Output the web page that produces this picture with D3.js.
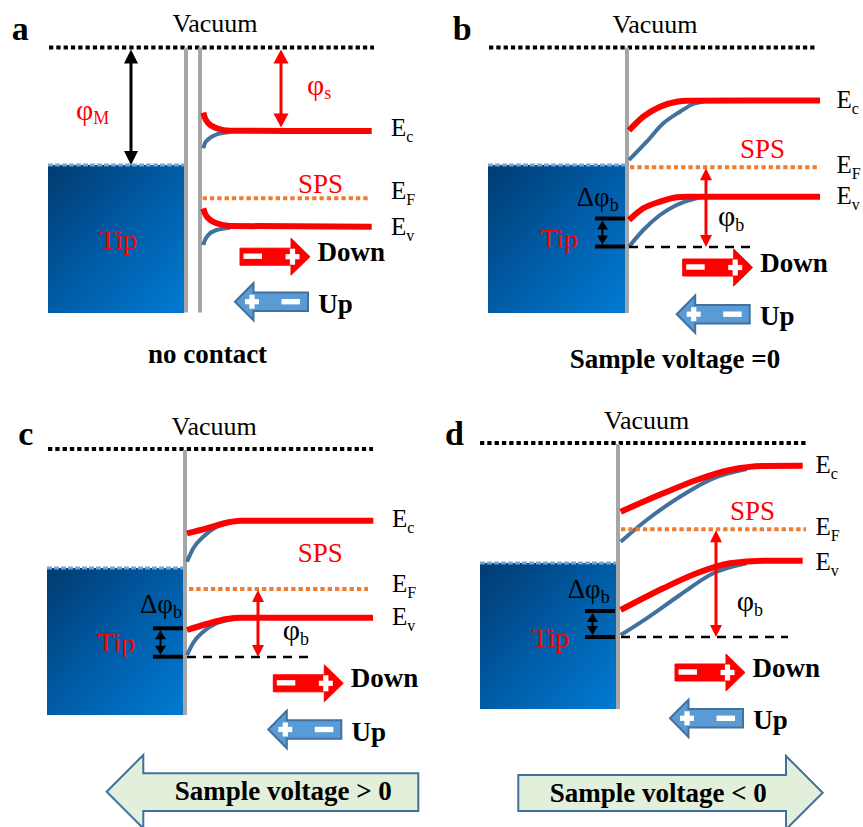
<!DOCTYPE html>
<html><head><meta charset="utf-8">
<script src="https://cdn.jsdelivr.net/npm/d3@7"></script>
<style>body{margin:0;background:#fff}</style>
</head><body>
<svg id="chart" width="863" height="827"></svg>
<script>
// ================= DATA =================
// energies: below vacuum level (arbitrary units); distances: from tip surface (arbitrary units)
const panelIds = ["a", "b", "c", "d"];
const captions = ["no contact", "Sample voltage =0", "Sample voltage > 0", "Sample voltage < 0"];
const bandSubs = ["c", "F", "v"];
const vacuumSpan = [[-13.7, 18.8], [-13.8, 18.8], [-13.7, 18.8], [-13.8, 18.8]];
const tipFermi = [11.75, 11.75, 11.9, 12.0];     // tip Fermi level (top of tip)
const tipBottom = [26.55, 26.55, 26.6, 26.6];
const tipSpan = [[-13.8, -0.2], [-13.9, -0.2], [-13.8, -0.2], [-13.8, -0.2]];
const walls = [[0, 1.4], [0], [0], [0]];
const wallSpan = [[0, 26.5], [0, 26.55], [0.1, 26.6], [0.1, 26.6]];
const sampleFermi = [15.08, 11.98, 14.0, 8.63];
const fermiSpan = [[1.67, 18.23], [0.3, 19.3], [0.4, 18.3], [0.3, 18.8]];
const ecRed = [
  [[1.73, 6.52], [1.9, 7.05], [2.23, 7.58], [3.07, 8.08], [4.4, 8.32], [18.57, 8.35]],
  [[0.2, 8.3], [1.63, 6.92], [3.3, 5.92], [4.97, 5.42], [5.97, 5.32], [19.3, 5.3]],
  [[0.2, 8.43], [2.17, 7.93], [4.17, 7.37], [5.5, 7.17], [18.83, 7.17]],
  [[0.27, 6.87], [4.53, 5.03], [7.87, 3.7], [11.2, 2.7], [14.53, 2.3], [18.47, 2.27]]
];
const ecBlue = [
  [[1.73, 10.08], [1.9, 9.55], [2.23, 9.18], [3.07, 8.68], [4.4, 8.45]],
  [[0.2, 11.25], [1.97, 9.42], [3.63, 7.58], [5.3, 6.42], [6.63, 5.65], [7.63, 5.4]],
  [[0.2, 11.27], [0.83, 9.93], [1.83, 8.77], [3.17, 7.77], [4.83, 7.27], [5.5, 7.2]],
  [[0.27, 9.87], [2.87, 7.7], [6.2, 5.37], [9.53, 3.53], [12.87, 2.6]]
];
const evRed = [
  [[1.73, 16.08], [1.9, 16.6], [2.23, 17.08], [3.07, 17.58], [4.4, 17.85], [18.57, 17.92]],
  [[0.2, 17.25], [1.63, 16.08], [3.3, 15.42], [4.97, 14.98], [5.97, 14.92], [19.3, 14.92]],
  [[0.2, 18.1], [2.17, 17.5], [4.17, 17.0], [5.5, 16.87], [18.8, 16.87]],
  [[0.27, 16.7], [4.53, 14.53], [7.87, 13.03], [11.2, 12.03], [14.53, 11.77], [18.47, 11.77]]
];
const evBlue = [
  [[1.73, 19.75], [1.9, 19.25], [2.23, 18.75], [3.07, 18.25], [4.4, 18.02]],
  [[0.2, 19.92], [1.63, 18.25], [3.3, 16.75], [4.97, 15.75], [7.3, 14.98]],
  [[0.2, 20.6], [0.83, 19.37], [1.83, 18.27], [3.17, 17.43], [4.83, 17.0]],
  [[0.27, 19.2], [2.87, 17.53], [6.2, 15.2], [9.53, 13.03], [12.87, 12.03]]
];
const barrierRef = [null, 19.95, 20.8, 19.4];            // surface band position (dashed reference)
const barrierRefSpan = [null, [0.2, 12.3], [0.2, 12.5], [0.3, 17.0]];
const deltaPhi = [null, [17.1, 19.9], [17.93, 20.77], [16.8, 19.4]];
const workFnM = [0, 11.75];   // phi_M : vacuum -> tip Fermi
const workFnS = [0, 8.0];     // phi_s : vacuum -> Ec

// ================= LAYOUT =================
const unit = 10;
const layout = {
  origin: [[186, 47.5], [627, 47.5], [185, 449], [618, 443]],
  letter: [[-17.43, -0.75], [-17.43, -0.75], [-16.67, -0.4], [-17.3, 0.2]],
  vacuumLabel: [[2.9, -1.52], [2.8, -1.42], [2.92, -1.4], [2.87, -1.37]],
  bandLabelX: [20.5, 20.95, 20.7, 19.75],
  bandLabelV: [[8.85, 15.18, 18.75], [6.08, 12.58, 15.65], [7.77, 14.27, 17.6], [3.03, 9.2, 12.7]],
  sps: [[11.2, 14.52], [11.3, 11.08], [11.27, 11.27], [11.2, 7.7]],
  tip: [[-8.67, 20.18], [-8.7, 20.05], [-8.77, 20.27], [-8.63, 20.37]],
  phiBX: [null, 7.9, 7.3, 9.8],
  phiBLabel: [null, [9.1, 17.85], [9.77, 19.1], [11.87, 16.8]],
  dPhiX: [null, [-3.2, -0.2], [-3.2, -0.2], [-3.3, -0.3]],
  dPhiLabel: [null, [-5.03, 15.85], [-4.5, 16.4], [-5.03, 15.53]],
  down: [[5.4, 20.92], [5.57, 22.0], [8.83, 23.43], [5.7, 22.95]],
  up: [[4.9, 25.42], [4.97, 26.67], [8.33, 28.05], [5.2, 27.53]],
  caption: [[2.15, 31.52], [4.8, 32.08], [9.83, 35.1], [4.03, 35.93]],
  phiMX: -5.5, phiMLabel: [-11, 7.25],
  phiSX: 9.5, phiSLabel: [12.1, 4.75],
  bigArrow: [null, null,
    {tip: [-7.83, 34.27], end: 23.33, back: -4.17, body: [32.43, 36.2], head: 3.67},
    {tip: [20.47, 34.97], end: -9.97, back: 16.8, body: [33.2, 36.8], head: 3.67}]
};

const RED = "#ff0000", BLUE = "#41719c", ORANGE = "#ed7d31", GRAY = "#a6a6a6";
const SERIF = "Liberation Serif";

const svg = d3.select("#chart");
const defs = svg.append("defs");
const grad = defs.append("linearGradient").attr("id", "tipGrad")
  .attr("x1", "0").attr("y1", "0").attr("x2", "1").attr("y2", "1");
grad.append("stop").attr("offset", "0").attr("stop-color", "#003b70");
grad.append("stop").attr("offset", "0.5").attr("stop-color", "#005ca6");
grad.append("stop").attr("offset", "1").attr("stop-color", "#007bd3");

function label(g, x, y, main, sub, o) {
  const fill = o.fill || "#000";
  const t = g.append("text").attr("x", x).attr("y", y)
    .attr("font-family", SERIF).attr("font-size", o.fs).attr("fill", fill)
    .attr("font-weight", o.bold ? "bold" : "normal")
    .attr("text-anchor", o.anchor || "start");
  t.append("tspan").text(main);
  if (sub) t.append("tspan").attr("font-size", o.sfs).attr("dy", o.sdy).text(sub);
  return t;
}

function vArrow(g, x, y0, y1, color, w, hl, hw, both) {
  const dir = y1 > y0 ? 1 : -1;
  g.append("line").attr("x1", x).attr("x2", x)
    .attr("y1", both ? y0 + dir * hl * 0.8 : y0).attr("y2", y1 - dir * hl * 0.8)
    .attr("stroke", color).attr("stroke-width", w);
  const head = (yt, d) => `M${x},${yt} L${x - hw},${yt - d * hl} L${x + hw},${yt - d * hl} Z`;
  g.append("path").attr("d", head(y1, dir)).attr("fill", color);
  if (both) g.append("path").attr("d", head(y0, -dir)).attr("fill", color);
}

panelIds.forEach((id, i) => {
  const [ox, oy] = layout.origin[i];
  const x = d3.scaleLinear().domain([0, 1]).range([ox, ox + unit]);
  const y = d3.scaleLinear().domain([0, 1]).range([oy, oy + unit]);
  const g = svg.append("g").attr("class", "panel-" + id);
  const line = d3.line().x(d => x(d[0])).y(d => y(d[1])).curve(d3.curveMonotoneX);

  // Tip
  g.append("rect").attr("x", x(tipSpan[i][0])).attr("y", y(tipFermi[i]))
    .attr("width", x(tipSpan[i][1]) - x(tipSpan[i][0]))
    .attr("height", y(tipBottom[i]) - y(tipFermi[i]))
    .attr("fill", "url(#tipGrad)");
  g.append("line").attr("x1", x(tipSpan[i][0])).attr("x2", x(tipSpan[i][1]))
    .attr("y1", y(tipFermi[i])).attr("y2", y(tipFermi[i]))
    .attr("stroke", "#6fa6dc").attr("stroke-width", 3).attr("stroke-dasharray", "5 2");

  // Vacuum level
  g.append("line").attr("x1", x(vacuumSpan[i][0])).attr("x2", x(vacuumSpan[i][1]))
    .attr("y1", y(0)).attr("y2", y(0))
    .attr("stroke", "#000").attr("stroke-width", 4).attr("stroke-dasharray", "4.3 3");

  // Walls
  walls[i].forEach(w => {
    g.append("line").attr("x1", x(w)).attr("x2", x(w))
      .attr("y1", y(wallSpan[i][0])).attr("y2", y(wallSpan[i][1]))
      .attr("stroke", GRAY).attr("stroke-width", 4);
  });

  // Bands
  [ecBlue[i], evBlue[i]].forEach(pts => g.append("path").attr("d", line(pts))
    .attr("fill", "none").attr("stroke", BLUE).attr("stroke-width", 4));
  [ecRed[i], evRed[i]].forEach(pts => g.append("path").attr("d", line(pts))
    .attr("fill", "none").attr("stroke", RED).attr("stroke-width", 6));

  // Fermi level of sample
  g.append("line").attr("x1", x(fermiSpan[i][0])).attr("x2", x(fermiSpan[i][1]))
    .attr("y1", y(sampleFermi[i])).attr("y2", y(sampleFermi[i]))
    .attr("stroke", ORANGE).attr("stroke-width", 4).attr("stroke-dasharray", "4.3 3");

  // Band labels
  const bandVals = layout.bandLabelV[i];
  bandSubs.forEach((s, k) => label(g, x(layout.bandLabelX[i]), y(bandVals[k]), "E", s,
    {fs: 25, sfs: 16, sdy: 6}));

  label(g, x(layout.sps[i][0]), y(layout.sps[i][1]), "SPS", null, {fs: 27, fill: RED});
  label(g, x(layout.vacuumLabel[i][0]), y(layout.vacuumLabel[i][1]), "Vacuum", null, {fs: 26, anchor: "middle"});
  label(g, x(layout.letter[i][0]), y(layout.letter[i][1]), id, null, {fs: 34, bold: true});
  label(g, x(layout.tip[i][0]), y(layout.tip[i][1]), "Tip", null, {fs: 28, fill: RED});

  if (i === 0) {
    vArrow(g, x(layout.phiMX), y(workFnM[0]) + 2, y(workFnM[1]), "#000", 3, 14, 7, true);
    label(g, x(layout.phiMLabel[0]), y(layout.phiMLabel[1]), "φ", "M", {fs: 30, sfs: 18, sdy: 4, fill: RED});
    vArrow(g, x(layout.phiSX), y(workFnS[0]) + 2, y(workFnS[1]), RED, 3, 14, 7.5, true);
    label(g, x(layout.phiSLabel[0]), y(layout.phiSLabel[1]), "φ", "s", {fs: 30, sfs: 18, sdy: 4, fill: RED});
  } else {
    g.append("line").attr("x1", x(barrierRefSpan[i][0])).attr("x2", x(barrierRefSpan[i][1]))
      .attr("y1", y(barrierRef[i])).attr("y2", y(barrierRef[i]))
      .attr("stroke", "#000").attr("stroke-width", 2.7).attr("stroke-dasharray", "9 7");
    vArrow(g, x(layout.phiBX[i]), y(sampleFermi[i]) + 1, y(barrierRef[i]), RED, 3, 12, 6, true);
    label(g, x(layout.phiBLabel[i][0]), y(layout.phiBLabel[i][1]), "φ", "b", {fs: 30, sfs: 18, sdy: 5});
    const [bx0, bx1] = layout.dPhiX[i];
    deltaPhi[i].forEach(v => g.append("line").attr("x1", x(bx0)).attr("x2", x(bx1))
      .attr("y1", y(v)).attr("y2", y(v)).attr("stroke", "#000").attr("stroke-width", 4));
    vArrow(g, x(bx0) + 7.5, y(deltaPhi[i][0]) + 2, y(deltaPhi[i][1]) - 2, "#000", 2, 9, 5.5, true);
    label(g, x(layout.dPhiLabel[i][0]), y(layout.dPhiLabel[i][1]), "Δφ", "b", {fs: 27, sfs: 18, sdy: 5});
  }

  // Down arrow (red, pointing right)
  {
    const x0 = x(layout.down[i][0]), yc = y(layout.down[i][1]);
    const L = 70, bh = 8.5, hh = 18.5, hl = 19;
    g.append("path").attr("d",
      `M${x0},${yc - bh} H${x0 + L - hl} V${yc - hh} L${x0 + L},${yc} L${x0 + L - hl},${yc + hh} V${yc + bh} H${x0} Z`)
      .attr("fill", RED).attr("stroke", RED).attr("stroke-width", 1);
    g.append("rect").attr("x", x0 + 3.5).attr("y", yc - 3.2).attr("width", 18.5).attr("height", 5.4).attr("fill", "#fff");
    const px = x0 + 52.5;
    g.append("rect").attr("x", px - 7).attr("y", yc - 2.6).attr("width", 14).attr("height", 5.2).attr("fill", "#fff");
    g.append("rect").attr("x", px - 2.6).attr("y", yc - 8).attr("width", 5.2).attr("height", 16).attr("fill", "#fff");
    label(g, x0 + 77.5, yc + 4, "Down", null, {fs: 27, bold: true});
  }
  // Up arrow (blue, pointing left)
  {
    const x0 = x(layout.up[i][0]), yc = y(layout.up[i][1]);
    const L = 73, bh = 9.2, hh = 18.7, hl = 18.5;
    g.append("path").attr("d",
      `M${x0},${yc} L${x0 + hl},${yc - hh} V${yc - bh} H${x0 + L} V${yc + bh} H${x0 + hl} V${yc + hh} Z`)
      .attr("fill", "#5b9bd5").attr("stroke", BLUE).attr("stroke-width", 2);
    const px = x0 + 17;
    g.append("rect").attr("x", px - 7).attr("y", yc - 2.6).attr("width", 14).attr("height", 5.2).attr("fill", "#fff");
    g.append("rect").attr("x", px - 2.6).attr("y", yc - 7).attr("width", 5.2).attr("height", 14).attr("fill", "#fff");
    g.append("rect").attr("x", x0 + 46.5).attr("y", yc - 2.7).attr("width", 18.5).attr("height", 5.4).attr("fill", "#fff");
    label(g, x0 + 83.3, yc + 11, "Up", null, {fs: 27, bold: true});
  }

  // Big voltage arrows
  const ba = layout.bigArrow[i];
  if (ba) {
    const tx = x(ba.tip[0]), ty = y(ba.tip[1]);
    const bx = x(ba.back), ex = x(ba.end);
    const b0 = y(ba.body[0]), b1 = y(ba.body[1]);
    const hh = ba.head * unit;
    g.append("path").attr("d",
      `M${tx},${ty} L${bx},${ty - hh} V${b0} H${ex} V${b1} H${bx} V${ty + hh} Z`)
      .attr("fill", "#e2efda").attr("stroke", BLUE).attr("stroke-width", 2);
  }
  label(g, x(layout.caption[i][0]), y(layout.caption[i][1]), captions[i], null,
    {fs: 27, bold: true, anchor: "middle"});
});
</script>
</body></html>
